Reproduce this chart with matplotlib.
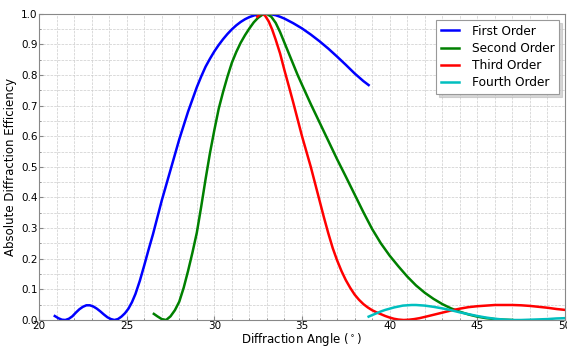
import numpy as np
import matplotlib
matplotlib.use("Agg")
import matplotlib.pyplot as plt
from matplotlib.ticker import MultipleLocator

# values
first_x = [20.9, 21.1, 21.3, 21.5, 21.7, 21.9, 22.1, 22.3, 22.5, 22.7, 22.9, 23.1, 23.3,
           23.5, 23.7, 23.9, 24.1, 24.3, 24.5, 24.7, 24.9, 25.1, 25.3, 25.5, 25.75, 26.0,
           26.25, 26.5, 26.75, 27.0, 27.25, 27.5, 27.75, 28.0, 28.25, 28.5, 28.75, 29.0,
           29.25, 29.5, 29.75, 30.0, 30.25, 30.5, 30.75, 31.0, 31.25, 31.5, 31.75, 32.0,
           32.25, 32.5, 32.75, 33.0, 33.25, 33.5, 33.75, 34.0, 34.5, 35.0, 35.5, 36.0,
           36.5, 37.0, 37.5, 38.0, 38.5, 38.8]
first_y = [0.013, 0.006, 0.001, 0.0, 0.004, 0.012, 0.024, 0.035, 0.043, 0.048, 0.048, 0.044, 0.037,
           0.028, 0.018, 0.009, 0.003, 0.0, 0.003, 0.011, 0.022, 0.037, 0.058, 0.085, 0.128, 0.178,
           0.23, 0.28, 0.335, 0.39, 0.44, 0.49, 0.54, 0.59, 0.635, 0.68, 0.72, 0.76,
           0.795, 0.827, 0.853, 0.877, 0.898, 0.917, 0.934, 0.949, 0.962, 0.973, 0.982, 0.989,
           0.994, 0.998, 1.0, 1.0, 0.998, 0.995, 0.99, 0.984, 0.969, 0.952, 0.932, 0.91,
           0.886, 0.86, 0.833, 0.805, 0.78, 0.767]

second_x = [26.55, 26.75, 27.0, 27.25, 27.5, 27.75, 28.0, 28.25, 28.5, 28.75, 29.0, 29.25,
            29.5, 29.75, 30.0, 30.25, 30.5, 30.75, 31.0, 31.25, 31.5, 31.75, 32.0, 32.25,
            32.5, 32.75, 33.0, 33.25, 33.5, 33.75, 34.0, 34.25, 34.5, 34.75, 35.0, 35.5,
            36.0, 36.5, 37.0, 37.5, 38.0, 38.5, 39.0, 39.5, 40.0, 40.5, 41.0, 41.5, 42.0,
            42.5, 43.0, 43.5, 44.0, 44.5, 45.0, 45.5, 46.0, 46.5, 47.0]
second_y = [0.02, 0.012, 0.003, 0.0, 0.012, 0.032, 0.06, 0.105, 0.16, 0.22, 0.285, 0.37,
            0.46, 0.545, 0.62, 0.69, 0.745, 0.795, 0.84, 0.875, 0.905, 0.93, 0.952, 0.972,
            0.987, 0.997, 0.999, 0.99, 0.97, 0.94, 0.905, 0.87, 0.835, 0.8, 0.768, 0.705,
            0.645, 0.585, 0.525, 0.468, 0.41, 0.352, 0.297, 0.25, 0.21, 0.175, 0.142, 0.113, 0.089,
            0.069, 0.052, 0.038, 0.027, 0.018, 0.011, 0.006, 0.003, 0.001, 0.0]

third_x = [32.45, 32.6, 32.75, 32.9, 33.1, 33.3, 33.5, 33.75, 34.0, 34.25, 34.5, 34.75,
           35.0, 35.25, 35.5, 35.75, 36.0, 36.25, 36.5, 36.75, 37.0, 37.25, 37.5, 37.75,
           38.0, 38.25, 38.5, 38.75, 39.0, 39.25, 39.5, 39.75, 40.0, 40.25, 40.5, 40.8,
           41.1, 41.4, 41.7, 42.0, 42.5, 43.0, 43.5, 44.0, 44.5, 45.0, 45.5, 46.0, 46.5,
           47.0, 47.5, 48.0, 48.5, 49.0, 49.5, 50.0]
third_y = [0.99, 0.998, 1.0, 0.993, 0.975, 0.948, 0.915, 0.87, 0.815, 0.763, 0.71, 0.655,
           0.6, 0.55, 0.5, 0.445, 0.39, 0.335, 0.283, 0.235, 0.195, 0.16, 0.13, 0.105,
           0.083, 0.066, 0.052, 0.041, 0.032, 0.025, 0.019, 0.013, 0.008, 0.004, 0.0015, 0.0,
           0.001, 0.003, 0.006, 0.01, 0.017, 0.024, 0.031, 0.037, 0.042, 0.045, 0.047, 0.049, 0.049,
           0.049, 0.048, 0.046, 0.043, 0.04, 0.036, 0.033]

fourth_x = [38.8, 39.0, 39.25, 39.5, 39.75, 40.0, 40.25, 40.5, 40.75, 41.0, 41.25, 41.5,
            41.75, 42.0, 42.5, 43.0, 43.5, 44.0, 44.5, 45.0, 45.5, 46.0, 46.5, 47.0, 47.5,
            48.0, 48.5, 49.0, 49.5, 50.0]
fourth_y = [0.011, 0.016, 0.022, 0.028, 0.033, 0.037, 0.041, 0.044, 0.047, 0.048, 0.049, 0.049,
            0.048, 0.047, 0.043, 0.038, 0.032, 0.025, 0.019, 0.013, 0.008, 0.004, 0.0015, 0.0, 0.0,
            0.001, 0.002, 0.003, 0.005, 0.006]

labels = ["First Order", "Second Order", "Third Order", "Fourth Order"]
colors = ["#0000ff", "#008000", "#ff0000", "#00bfbf"]

fig = plt.figure(figsize=(5.67, 3.47), dpi=100)
ax = fig.add_axes([0.0688, 0.0778, 0.9277, 0.8827])

series = [(first_x, first_y), (second_x, second_y), (third_x, third_y), (fourth_x, fourth_y)]
for (xs, ys), lab, c in zip(series, labels, colors):
    ax.plot(xs, ys, color=c, lw=1.8, label=lab, solid_joinstyle="round")

ax.set_xlim(20, 50)
ax.set_ylim(0, 1)
ax.xaxis.set_major_locator(MultipleLocator(5))
ax.xaxis.set_minor_locator(MultipleLocator(1))
ax.yaxis.set_major_locator(MultipleLocator(0.1))
ax.yaxis.set_minor_locator(MultipleLocator(0.05))
ax.grid(True, which="both", color="#cccccc", linestyle="--", linewidth=0.5)
ax.set_axisbelow(True)
ax.tick_params(which="both", direction="in", labelsize=7.5, pad=1, color="#888888")
ax.tick_params(which="major", length=3)
ax.tick_params(which="minor", length=1.5)
for sp in ax.spines.values():
    sp.set_color("#888888")

ax.set_xlabel(r"Diffraction Angle ($^\circ$)", fontsize=8.5, labelpad=0)
ax.set_ylabel("Absolute Diffraction Efficiency", fontsize=8.5, labelpad=3)

leg = ax.legend(loc="upper right", fontsize=8.7, fancybox=False,
                shadow={"color": "#bbbbbb", "alpha": 0.6}, labelspacing=0.35,
                handlelength=1.5, handletextpad=1.0, borderaxespad=0.5, framealpha=1)
leg.get_frame().set_edgecolor("#999999")
leg.get_frame().set_linewidth(0.8)

fig.savefig("out.png", dpi=100)
